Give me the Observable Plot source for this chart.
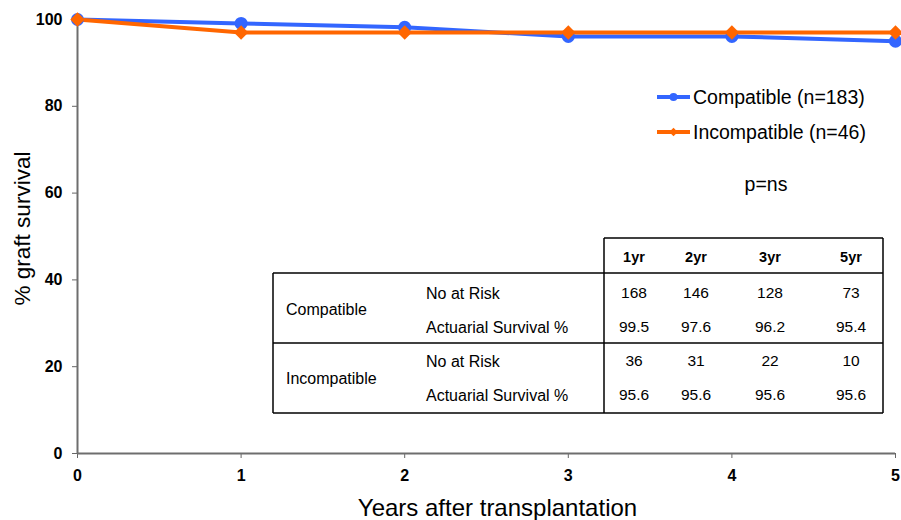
<!DOCTYPE html>
<html>
<head>
<meta charset="utf-8">
<script src="https://cdn.jsdelivr.net/npm/d3@7"></script>
<script src="https://cdn.jsdelivr.net/npm/@observablehq/plot@0.6"></script>
<style>
  html, body { margin: 0; padding: 0; background: #fff; }
  svg { display: block; }
</style>
</head>
<body>
<div id="chart"></div>
<script>
// ---- data ----
const years = [0, 1, 2, 3, 4, 5];
const compatibleSurvivalCurve = [100, 99.1, 98.2, 96.1, 96.1, 95.0];
const incompatibleSurvivalCurve = [100, 97.0, 97.0, 97.0, 97.0, 97.0];
const seriesNames = ["Compatible (n=183)", "Incompatible (n=46)"];
const seriesColors = ["#3366ff", "#ff6600"];
const yTicks = [0, 20, 40, 60, 80, 100];
const xTicks = [0, 1, 2, 3, 4, 5];
const xTitle = "Years after transplantation";
const yTitle = "% graft survival";
const pValueLabel = "p=ns";

const tableCols = ["1yr", "2yr", "3yr", "5yr"];
const tableGroups = ["Compatible", "Incompatible"];
const tableRowLabels = ["No at Risk", "Actuarial Survival %"];
const compatibleAtRisk = ["168", "146", "128", "73"];
const compatibleActuarial = ["99.5", "97.6", "96.2", "95.4"];
const incompatibleAtRisk = ["36", "31", "22", "10"];
const incompatibleActuarial = ["95.6", "95.6", "95.6", "95.6"];

// ---- derived tables ----
const curveData = [];
years.forEach((yr, i) => {
  curveData.push({series: seriesNames[0], year: yr, value: compatibleSurvivalCurve[i]});
});
years.forEach((yr, i) => {
  curveData.push({series: seriesNames[1], year: yr, value: incompatibleSurvivalCurve[i]});
});
const tableBody = [
  [compatibleAtRisk, compatibleActuarial],
  [incompatibleAtRisk, incompatibleActuarial]
];

const FONT = "'Liberation Sans', Arial, Helvetica, sans-serif";

// legend drawn inside the plot
function legendMark(index, scales, values, dims) {
  const g = d3.create("svg:g").attr("font-family", FONT).attr("text-anchor", "start");
  const x0 = 657, x1 = 690, rowY = [97, 132];
  seriesNames.forEach((name, i) => {
    const y = rowY[i];
    g.append("line").attr("x1", x0).attr("x2", x1).attr("y1", y).attr("y2", y)
      .attr("stroke", seriesColors[i]).attr("stroke-width", 4);
    g.append("path")
      .attr("d", d3.symbol(i === 0 ? d3.symbolCircle : d3.symbolDiamond2, i === 0 ? 50 : 45)())
      .attr("transform", `translate(${(x0 + x1) / 2},${y})`)
      .attr("fill", seriesColors[i]);
    g.append("text").attr("x", x1 + 3).attr("y", y).attr("dy", "0.35em")
      .attr("font-size", 19.5).attr("fill", "#000").text(name);
  });
  g.append("text").attr("x", 766).attr("y", 184).attr("dy", "0.35em")
    .attr("text-anchor", "middle").attr("font-size", 19.5).attr("fill", "#000").text(pValueLabel);
  return g.node();
}

// risk table drawn inside the plot
function tableMark(index, scales, values, dims) {
  const g = d3.create("svg:g").attr("font-family", FONT).attr("fill", "#000").attr("text-anchor", "start");
  const left = 273, split = 604, right = 883;
  const headTop = 238, headBottom = 273, mid = 343, bottom = 413;
  const colX = [634, 696, 770, 851];
  const rowY = [[293, 327], [361, 395]];
  const groupY = [309, 378];
  const lines = g.append("g").attr("stroke", "#000").attr("stroke-width", 1.5).attr("fill", "none");
  lines.append("line").attr("x1", split).attr("x2", right).attr("y1", headTop).attr("y2", headTop);
  [headBottom, mid, bottom].forEach(y =>
    lines.append("line").attr("x1", left).attr("x2", right).attr("y1", y).attr("y2", y));
  lines.append("line").attr("x1", left).attr("x2", left).attr("y1", headBottom).attr("y2", bottom);
  lines.append("line").attr("x1", split).attr("x2", split).attr("y1", headTop).attr("y2", bottom);
  lines.append("line").attr("x1", right).attr("x2", right).attr("y1", headTop).attr("y2", bottom);

  tableCols.forEach((c, j) => {
    g.append("text").attr("x", colX[j]).attr("y", (headTop + headBottom) / 2 + 1).attr("dy", "0.35em")
      .attr("text-anchor", "middle").attr("font-size", 14.5).attr("font-weight", "bold").text(c);
  });
  tableGroups.forEach((grp, k) => {
    g.append("text").attr("x", 286).attr("y", groupY[k]).attr("dy", "0.35em")
      .attr("font-size", 16).text(grp);
    tableRowLabels.forEach((lab, r) => {
      g.append("text").attr("x", 426).attr("y", rowY[k][r]).attr("dy", "0.35em")
        .attr("font-size", 16).text(lab);
      tableBody[k][r].forEach((v, j) => {
        g.append("text").attr("x", colX[j]).attr("y", rowY[k][r]).attr("dy", "0.35em")
          .attr("text-anchor", "middle").attr("font-size", 15.5).text(v);
      });
    });
  });
  return g.node();
}

const chart = Plot.plot({
  width: 901,
  height: 520,
  marginLeft: 77,
  marginRight: 6,
  marginTop: 19,
  marginBottom: 67,
  style: {fontFamily: FONT, fontSize: "16px", background: "#fff", color: "#000", overflow: "visible"},
  x: {domain: [0, 5]},
  y: {domain: [0, 100]},
  marks: [
    Plot.axisY({ticks: yTicks, tickSize: 5, tickPadding: 10, fontSize: 16, fontWeight: "bold",
      stroke: "#666", fill: "#000", label: null, tickFormat: d => String(d)}),
    Plot.axisX({ticks: xTicks, tickSize: 5, tickPadding: 11, fontSize: 16, fontWeight: "bold",
      stroke: "#666", fill: "#000", label: null, tickFormat: d => String(d)}),
    Plot.ruleX([0], {stroke: "#6e6e6e", strokeWidth: 2}),
    Plot.ruleY([0], {stroke: "#6e6e6e", strokeWidth: 2}),
    tableMark,
    legendMark,
    Plot.line(curveData, {x: "year", y: "value", z: "series",
      stroke: d => d.series, strokeWidth: 4, strokeLinejoin: "round"}),
    Plot.dot(curveData.filter(d => d.series === seriesNames[0]), {x: "year", y: "value",
      fill: seriesColors[0], r: 6.5, symbol: "circle"}),
    Plot.dot(curveData.filter(d => d.series === seriesNames[1]), {x: "year", y: "value",
      fill: seriesColors[1], r: 6.5, symbol: "diamond2"}),
    Plot.text([xTitle], {frameAnchor: "bottom", dx: 11, dy: 62, fontSize: 24, lineAnchor: "bottom", fill: "#000"}),
    Plot.text([yTitle], {frameAnchor: "left", textAnchor: "middle", dx: -55, dy: -8, rotate: -90, fontSize: 22.5, fill: "#000"})
  ],
  color: {domain: seriesNames, range: seriesColors}
});
document.getElementById("chart").appendChild(chart);
</script>
</body>
</html>
